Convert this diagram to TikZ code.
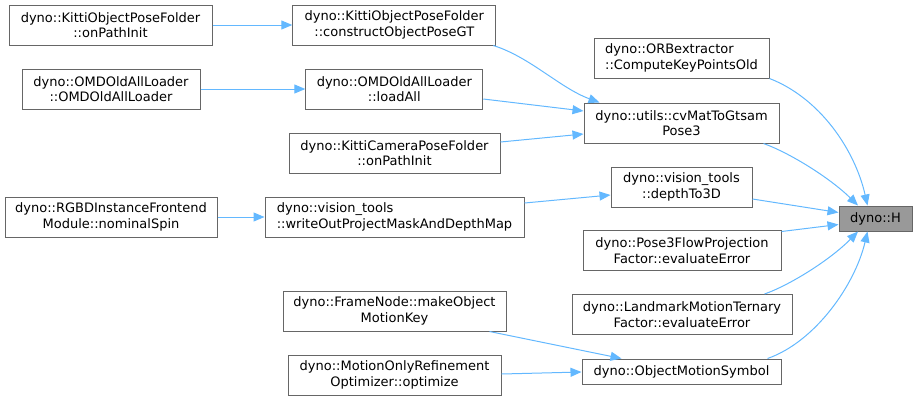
\documentclass[tikz,border=0pt]{standalone}
\usepackage{fontspec}
\setmainfont{DejaVu Sans}
\usetikzlibrary{arrows.meta}
\definecolor{edgeblue}{HTML}{63B8FF}
\definecolor{boxgray}{HTML}{666666}
\definecolor{hfill}{HTML}{999999}
\begin{document}
\begin{tikzpicture}[x=1pt,y=-1pt,
  box/.style={draw=boxgray, line width=1pt, fill=white, inner sep=0pt, align=center,
    minimum height=40pt, font=\fontsize{13}{15.6}\selectfont},
  sbox/.style={box, minimum height=25pt},
  hbox/.style={sbox, fill=hfill},
  conn/.style={draw=edgeblue, line width=1pt, -{Triangle[length=11pt,width=9pt]}}]
\useasboundingbox (0,0) rectangle (917,400);
% column 1
\node[box, minimum width=203pt] (kopi) at (110.5,25) {dyno::KittiObjectPoseFolder\\::onPathInit};
\node[box, minimum width=178pt] (omdc) at (111,89) {dyno::OMDOldAllLoader\\::OMDOldAllLoader};
\node[box, minimum width=212pt] (rgbd) at (111,217) {dyno::RGBDInstanceFrontend\\Module::nominalSpin};
% column 2
\node[box, minimum width=203pt] (kopc) at (394.3,25) {dyno::KittiObjectPoseFolder\\::constructObjectPoseGT};
\node[box, minimum width=177pt] (load) at (394.3,89) {dyno::OMDOldAllLoader\\::loadAll};
\node[box, minimum width=211pt] (kcp) at (394.5,153) {dyno::KittiCameraPoseFolder\\::onPathInit};
\node[box, align=left, minimum width=259pt] (wo) at (394.5,217) {dyno::vision\_tools\\::writeOutProjectMaskAndDepthMap};
\node[box, minimum width=223pt] (fnm) at (394.5,311) {dyno::FrameNode::makeObject\\MotionKey};
\node[box, minimum width=213pt] (mor) at (394.5,375) {dyno::MotionOnlyRefinement\\Optimizer::optimize};
% column 3
\node[box, align=left, minimum width=175pt] (orb) at (681.5,58) {dyno::ORBextractor\\::ComputeKeyPointsOld};
\node[box, minimum width=195pt] (cvm) at (681.5,123) {dyno::utils::cvMatToGtsam\\Pose3};
\node[box, minimum width=141pt] (d3d) at (681.5,187) {dyno::vision\_tools\\::depthTo3D};
\node[box, minimum width=198pt] (p3f) at (682,250.5) {dyno::Pose3FlowProjection\\Factor::evaluateError};
\node[box, minimum width=220pt] (lmt) at (682,314.5) {dyno::LandmarkMotionTernary\\Factor::evaluateError};
\node[sbox, minimum width=199pt] (oms) at (681.5,371.5) {dyno::ObjectMotionSymbol};
% target
\node[hbox, minimum width=73pt] (h) at (875.5,218.5) {dyno::H};
% edges
\draw[conn] (kopi.east) -- (kopc.west);
\draw[conn] (omdc.east) -- (load.west);
\draw[conn] (rgbd.east) -- (wo.west);
\draw[conn] ([xshift=-3pt]kopc.south east) .. controls (530,57) and (560,88) .. ([xshift=16pt]cvm.north west);
\draw[conn] ([yshift=-10pt]load.east) -- ([yshift=12pt]cvm.west);
\draw[conn] ([yshift=11pt]kcp.east) -- ([yshift=-11pt]cvm.west);
\draw[conn] ([yshift=14pt]wo.east) -- ([yshift=-8pt]d3d.west);
\draw[conn] ([xshift=-17pt]fnm.south east) -- ([xshift=40pt]oms.north west);
\draw[conn] ([yshift=1pt]mor.east) -- ([yshift=-0.5pt]oms.west);
\draw[conn] (orb.south east) .. controls (820,98) and (855,150) .. ([xshift=-8pt]h.north);
\draw[conn] ([xshift=-16pt]cvm.south east) .. controls (790,153) and (830,178) .. ([xshift=-17.5pt]h.north);
\draw[conn] ([yshift=-12pt]d3d.east) -- ([yshift=6pt]h.west);
\draw[conn] ([yshift=-1.5pt]p3f.north east) -- ([yshift=-6pt]h.west);
\draw[conn] ([xshift=-28pt]lmt.north east) .. controls (790,285) and (830,260) .. ([xshift=-17.5pt]h.south);
\draw[conn] ([xshift=-14pt]oms.north east) .. controls (815,342) and (855,285) .. ([xshift=-8pt]h.south);
\end{tikzpicture}
\end{document}
